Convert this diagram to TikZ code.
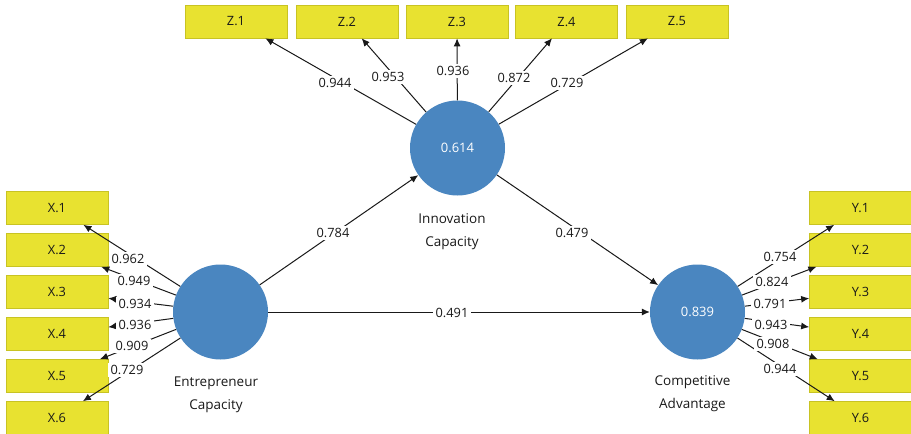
\documentclass[tikz,border=0pt]{standalone}
\usepackage{fontspec}
\setmainfont{Open Sans}
\usetikzlibrary{arrows.meta}
\definecolor{lvblue}{RGB}{74,134,192}
\definecolor{indyellow}{RGB}{232,226,48}
\definecolor{indborder}{RGB}{200,195,35}
\definecolor{txt}{RGB}{25,25,25}
\begin{document}
\begin{tikzpicture}[x=1pt,y=-1pt,
  ind/.style={draw=indborder, line width=0.6pt, fill=indyellow, minimum width=102pt, minimum height=33pt, inner sep=0pt, text=txt, font=\fontsize{12.8}{15}\selectfont},
  lv/.style={circle, fill=lvblue, minimum size=95pt, inner sep=0pt, text=white, font=\fontsize{13}{15}\selectfont},
  arr/.style={draw=txt, line width=1pt, -{Latex[length=8pt,width=7pt]}},
  wt/.style={fill=white, inner xsep=3pt, inner ysep=2pt, text=txt, font=\fontsize{12.8}{15}\selectfont},
  lvname/.style={align=center, text=txt, font=\fontsize{13.5}{23}\selectfont}]
\useasboundingbox (0,0) rectangle (911,434);
\fill[white] (0,0) rectangle (911,434);

% latent variables
\node[lv] (E) at (220.5,312) {};
\node[lv] (I) at (457.5,148) {0.614};
\node[lv] (C) at (697.5,312) {0.839};
\node[lvname] (El) at (216,395) {Entrepreneur\\Capacity};
\node[lvname] (Il) at (452,232) {Innovation\\Capacity};
\node[lvname] (Cl) at (692.5,394) {Competitive\\Advantage};

% indicators
\node[ind] (x1) at (57,208) {X.1};
\node[ind] (x2) at (57,250) {X.2};
\node[ind] (x3) at (57,292) {X.3};
\node[ind] (x4) at (57,334) {X.4};
\node[ind] (x5) at (57,376) {X.5};
\node[ind] (x6) at (57,418) {X.6};
\node[ind] (y1) at (860.5,208) {Y.1};
\node[ind] (y2) at (860.5,250) {Y.2};
\node[ind] (y3) at (860.5,292) {Y.3};
\node[ind] (y4) at (860.5,334) {Y.4};
\node[ind] (y5) at (860.5,376) {Y.5};
\node[ind] (y6) at (860.5,418) {Y.6};
\node[ind] (z1) at (236,21.5) {Z.1};
\node[ind] (z2) at (347,21.5) {Z.2};
\node[ind] (z3) at (457,21.5) {Z.3};
\node[ind] (z4) at (566.5,21.5) {Z.4};
\node[ind] (z5) at (677,21.5) {Z.5};

% connectors
\foreach \i in {1,...,6} {
  \draw[arr] (E) -- (x\i);
  \draw[arr] (C) -- (y\i);
}
\foreach \i in {1,...,5} {
  \draw[arr] (I) -- (z\i);
}
\draw[arr] (E) -- (I);
\draw[arr] (I) -- (C);
\draw[arr] (E) -- (C);

% loadings
\node[wt] (lx1) at (128,259) {0.962};
\node[wt] (lx2) at (134,281) {0.949};
\node[wt] (lx3) at (135,304) {0.934};
\node[wt] (lx4) at (135,325) {0.936};
\node[wt] (lx5) at (132,346) {0.909};
\node[wt] (lx6) at (127,370) {0.729};
\node[wt] (ly1) at (780,257) {0.754};
\node[wt] (ly2) at (772,282) {0.824};
\node[wt] (ly3) at (770,304) {0.791};
\node[wt] (ly4) at (771,325) {0.943};
\node[wt] (ly5) at (773,344) {0.908};
\node[wt] (ly6) at (780,369) {0.944};
\node[wt] (lz1) at (335,83) {0.944};
\node[wt] (lz2) at (388,77) {0.953};
\node[wt] (lz3) at (453,71) {0.936};
\node[wt] (lz4) at (514,78) {0.872};
\node[wt] (lz5) at (567,83) {0.729};
% path coefficients
\node[wt] (p1) at (333,233) {0.784};
\node[wt] (p2) at (572,233) {0.479};
\node[wt] (p3) at (452,313) {0.491};
\end{tikzpicture}
\end{document}
